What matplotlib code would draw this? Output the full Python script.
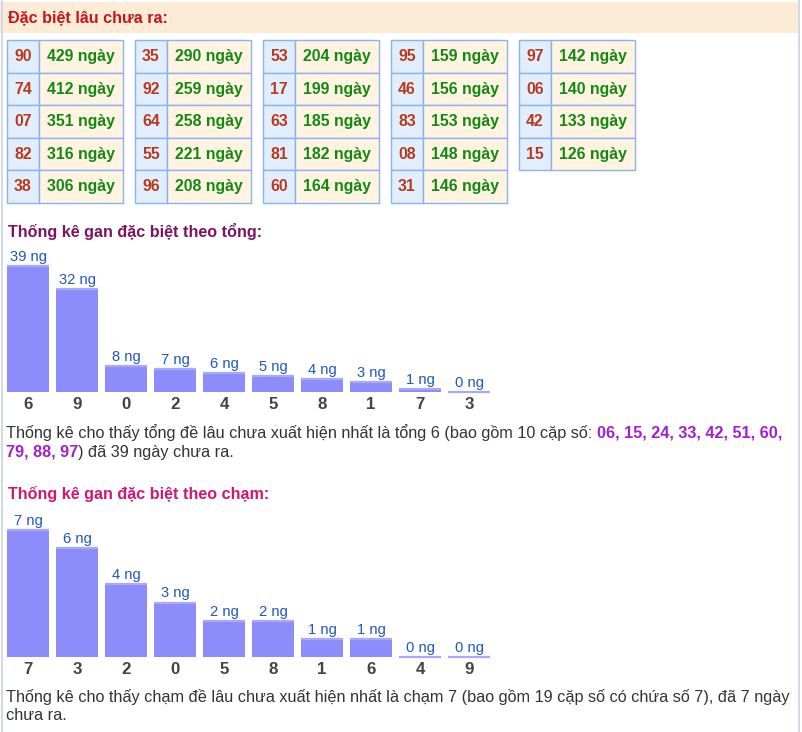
import matplotlib
matplotlib.use("Agg")
import matplotlib.pyplot as plt
from matplotlib.patches import Rectangle

plt.rcParams['font.family'] = ['Liberation Sans', 'DejaVu Sans']

# ---------------- data ----------------
header_title = "Đặc biệt lâu chưa ra:"
table_numbers = [["90", "74", "07", "82", "38"],
                 ["35", "92", "64", "55", "96"],
                 ["53", "17", "63", "81", "60"],
                 ["95", "46", "83", "08", "31"],
                 ["97", "06", "42", "15"]]
table_days = [[429, 412, 351, 316, 306],
              [290, 259, 258, 221, 208],
              [204, 199, 185, 182, 164],
              [159, 156, 153, 148, 146],
              [142, 140, 133, 126]]

tong_title = "Thống kê gan đặc biệt theo tổng:"
tong_labels = ["6", "9", "0", "2", "4", "5", "8", "1", "7", "3"]
tong_values = [39, 32, 8, 7, 6, 5, 4, 3, 1, 0]

cham_title = "Thống kê gan đặc biệt theo chạm:"
cham_labels = ["7", "3", "2", "0", "5", "8", "1", "6", "4", "9"]
cham_values = [7, 6, 4, 3, 2, 2, 1, 1, 0, 0]

tong_par = [
    [("Thống kê cho thấy tổng đề lâu chưa xuất hiện nhất là tổng 6 (bao gồm 10 cặp số: ", False),
     ("06, 15, 24, 33, 42, 51, 60,", True)],
    [("79, 88, 97", True), (") đã 39 ngày chưa ra.", False)],
]
cham_par = [
    [("Thống kê cho thấy chạm đề lâu chưa xuất hiện nhất là chạm 7 (bao gồm 19 cặp số có chứa số 7), đã 7 ngày", False)],
    [("chưa ra.", False)],
]

# ---------------- styles ----------------
W, H = 802, 732
BAR_C = "#8c8cfa"
BAR_TOP = "#a9a9fb"
LBL_C = "#1f56c4"
CAT_C = "#444444"
TXT_C = "#333333"
BOLD_C = "#a21fd2"

fig = plt.figure(figsize=(W / 100, H / 100), dpi=100)
fig.patch.set_facecolor("white")
ax = fig.add_axes([0, 0, 1, 1])
ax.set_xlim(0, W)
ax.set_ylim(H, 0)
ax.axis("off")

# outer borders
ax.plot([1.5, 1.5], [0, H], color="#c9d3e6", lw=1.2)
ax.plot([798.5, 798.5], [0, H], color="#c9d3e6", lw=1.2)

# header band
ax.add_patch(Rectangle((0, 2), 798, 31, facecolor="#fbebd7", edgecolor="none"))
ax.text(8, 18, header_title, fontsize=11.6, fontweight="bold", color="#c4161c",
        va="center", ha="left")

# tables
row_h = 32.5
y0 = 40
for g, (nums, days) in enumerate(zip(table_numbers, table_days)):
    gx = 7 + 128 * g
    for r, (n, d) in enumerate(zip(nums, days)):
        ry = y0 + r * row_h
        ax.add_patch(Rectangle((gx, ry), 32, row_h, facecolor="#e1eefd",
                               edgecolor="#8cb2f2", lw=1))
        ax.add_patch(Rectangle((gx + 32, ry), 84, row_h, facecolor="#fff3e1",
                               edgecolor="#8cb2f2", lw=1))
        ax.text(gx + 16, ry + row_h / 2 + 0.5, n, fontsize=11.4, fontweight="bold",
                color="#b9391b", ha="center", va="center")
        ax.text(gx + 32 + 42, ry + row_h / 2 + 0.5, f"{d} ngày", fontsize=11.4,
                fontweight="bold", color="#128a12", ha="center", va="center")

# section titles
ax.text(8, 231, tong_title, fontsize=11.6, fontweight="bold", color="#7d1462",
        va="center", ha="left")
ax.text(8, 494, cham_title, fontsize=11.6, fontweight="bold", color="#cf1775",
        va="center", ha="left")


def bar_chart(labels, values, base_px, top_px):
    fb = (H - base_px) / H
    fh = (base_px - top_px) / H
    left = 3.5 / W
    width = 490 / W
    bax = fig.add_axes([left, fb, width, fh])
    bax.set_xlim(-0.5, len(values) - 0.5)
    bax.set_ylim(0, max(values))
    bax.axis("off")
    xs = list(range(len(values)))
    bw = 42 / 49
    bax.bar(xs, values, width=bw, color=BAR_C, linewidth=0, clip_on=False)
    bax.hlines(values, [x - bw / 2 for x in xs], [x + bw / 2 for x in xs],
               color=BAR_TOP, lw=1.6, clip_on=False)
    for x, v, lab in zip(xs, values, labels):
        bax.annotate(f"{v} ng", (x, v), xytext=(0, 1.5), textcoords="offset points",
                     ha="center", va="bottom", fontsize=10.6, color=LBL_C,
                     annotation_clip=False)
        bax.annotate(lab, (x, 0), xytext=(0, -3.5), textcoords="offset points",
                     ha="center", va="top", fontsize=12.2, fontweight="bold",
                     color=CAT_C, annotation_clip=False)
    return bax


bar_chart(tong_labels, tong_values, 392, 266)
bar_chart(cham_labels, cham_values, 657, 530)

# rich paragraphs
fig.canvas.draw()
renderer = fig.canvas.get_renderer()


def draw_par(lines, x0, y_first, dy, size):
    for i, runs in enumerate(lines):
        x = x0
        y = y_first + i * dy
        for txt, bold in runs:
            t = ax.text(x, y, txt, fontsize=size,
                        fontweight="bold" if bold else "normal",
                        color=BOLD_C if bold else TXT_C, ha="left", va="baseline")
            bb = t.get_window_extent(renderer=renderer)
            x += bb.width


draw_par(tong_par, 6, 438, 18.5, 11.7)
draw_par(cham_par, 6, 702, 18.5, 11.7)

fig.savefig("out.png", dpi=100, facecolor="white")
